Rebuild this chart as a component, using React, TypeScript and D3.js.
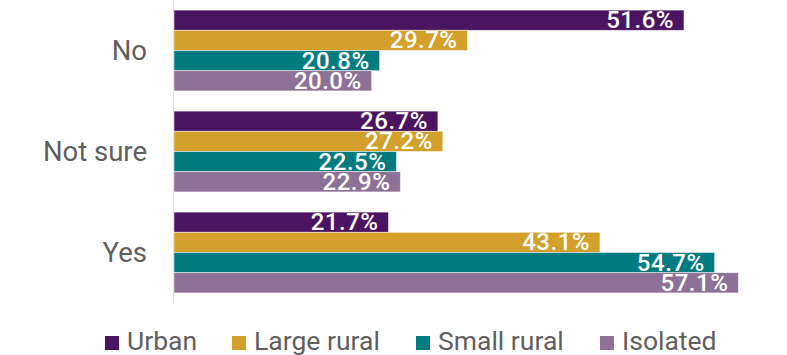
import React from "react";
import * as d3 from "d3";

const categories = ["No", "Not sure", "Yes"];
const seriesNames = ["Urban", "Large rural", "Small rural", "Isolated"];
const urban = [51.6, 26.7, 21.7];
const largeRural = [29.7, 27.2, 43.1];
const smallRural = [20.8, 22.5, 54.7];
const isolated = [20.0, 22.9, 57.1];
const seriesValues = [urban, largeRural, smallRural, isolated];
const colors = ["#4b1460", "#d3a02b", "#007b7f", "#8e7196"];

const W = 787;
const H = 355;
const left = 174;

export default function App() {
  const x = d3.scaleLinear().domain([0, 60]).range([left, 767]);
  const y0 = d3.scaleBand<string>().domain(categories).range([0, 303]).paddingInner(0.2).paddingOuter(0.1);
  const y1 = d3.scaleBand<number>().domain(d3.range(seriesNames.length)).range([0, y0.bandwidth()]);
  const legendX = [105, 232, 416, 600];
  return (
    <svg width={W} height={H} style={{ position: "absolute", left: 0, top: 0, fontFamily: "Roboto, sans-serif" }}>
      <line x1={173.5} x2={173.5} y1={0} y2={303} stroke="#dcdcdc" strokeWidth={1} />
      {categories.map((c, ci) => (
        <g key={c} transform={`translate(0,${y0(c)})`}>
          <text x={147} y={y0.bandwidth() / 2} dy="0.36em" textAnchor="end" fontSize={27.5} fill="#5f5f5f">
            {c}
          </text>
          {seriesValues.map((vals, si) => (
            <g key={si}>
              <rect
                x={x(0)}
                y={y1(si)!}
                width={x(vals[ci]) - x(0)}
                height={y1.bandwidth()}
                fill={colors[si]}
                stroke="#ffffff"
                strokeOpacity={0.6}
                strokeWidth={0.8}
              />
              <text
                x={x(vals[ci]) - 10}
                y={y1(si)! + y1.bandwidth() - 2}
                textAnchor="end"
                fontSize={24}
                fontWeight={500}
                letterSpacing={0.5}
                fill="#ffffff"
              >
                {vals[ci].toFixed(1)}%
              </text>
            </g>
          ))}
        </g>
      ))}
      {seriesNames.map((s, i) => (
        <g key={s}>
          <rect x={legendX[i]} y={336} width={14} height={14} fill={colors[i]} />
          <text x={legendX[i] + 22} y={350} fontSize={26.5} fill="#5f5f5f">
            {s}
          </text>
        </g>
      ))}
    </svg>
  );
}
